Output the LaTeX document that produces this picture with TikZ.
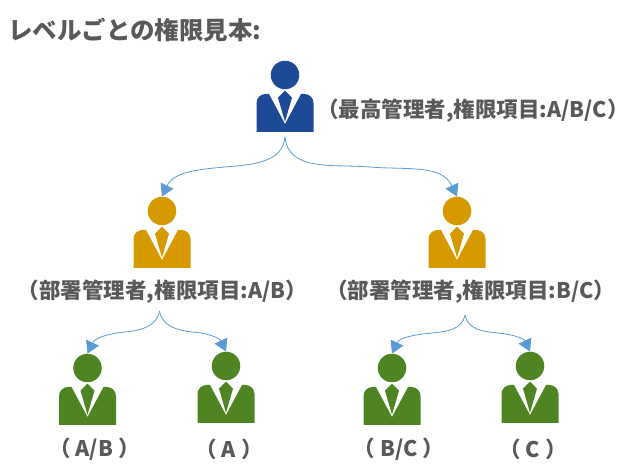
\documentclass[tikz,border=0pt]{standalone}
\usepackage{fontspec}
\setmainfont{Noto Sans CJK JP}
\usetikzlibrary{arrows.meta,positioning}
\definecolor{topblue}{HTML}{1C4A96}
\definecolor{midgold}{HTML}{D69A00}
\definecolor{lowgreen}{HTML}{4E8522}
\definecolor{inkgray}{HTML}{595959}
\definecolor{linkblue}{HTML}{5B9BD5}
\tikzset{
  head/.style={circle,fill=#1,inner sep=0pt,minimum size=28.5pt},
  label/.style={text=inkgray,inner sep=0pt,font=\bfseries\fontsize{21.5}{25}\selectfont},
  link/.style={linkblue,line width=0.8pt,-{Triangle[length=12pt,width=14pt]}},
  suit/.pic={
    \fill[#1] (-28.5,-57) -- (-28.5,-28) arc[start angle=180,end angle=90,radius=9]
      -- (-16,-19) -- (0,-49) -- (16,-19) -- (19.5,-19)
      arc[start angle=90,end angle=0,radius=9] -- (28.5,-57) -- cycle;
    \fill[#1] (0,-15.7) -- (7,-22.7) -- (0,-46.7) -- (-7,-22.7) -- cycle;
  }
}
\begin{document}
\begin{tikzpicture}[x=1pt,y=1pt]
  \useasboundingbox (0,0) rectangle (633,474);
  \path
  (285,399) node[head=topblue](top) {} pic {suit=topblue}
  (162,263) node[head=midgold](midl) {} pic {suit=midgold}
  (457,263) node[head=midgold](midr) {} pic {suit=midgold}
  (87.5,106) node[head=lowgreen](ab) {} pic {suit=lowgreen}
  (226,108) node[head=lowgreen](a) {} pic {suit=lowgreen}
  (392,106) node[head=lowgreen](bc) {} pic {suit=lowgreen}
  (530,108) node[head=lowgreen](c) {} pic {suit=lowgreen}
  ;

  \node[label,anchor=west,font=\bfseries\fontsize{24.5}{28}\selectfont] (title) at (8,444) {レベルごとの権限見本:};
  \node[label,anchor=west] (toplabel) at (317,363) {（最高管理者,権限項目:A/B/C）};
  \node[label] (midllabel) at (162.5,182.5) {（部署管理者,権限項目:A/B）};
  \node[label] (midrlabel) at (470.5,182.5) {（部署管理者,権限項目:B/C）};
  \node[label] (ablabel) at (94.5,24.5) {（ A/B ）};
  \node[label] (alabel) at (229,24.5) {（ A ）};
  \node[label] (bclabel) at (399,24.5) {（ B/C ）};
  \node[label] (clabel) at (533,24.5) {（ C ）};

  \coordinate (topfork) at (285,337);
  \coordinate (midlfork) at (159.5,163);
  \coordinate (midrfork) at (465,159);
  \coordinate (topl) at (225,307);
  \coordinate (topr) at (370,307);
  \coordinate (midll) at (125,142);
  \coordinate (midlr) at (193,142);
  \coordinate (midrl) at (432,141);
  \coordinate (midrr) at (498,141);

  \draw[link] (topfork) to[out=265,in=5] (topl) to[out=185,in=65] (midl.north);
  \draw[link] (topfork) to[out=275,in=175] (topr) to[out=-5,in=115] (midr.north);
  \draw[link] (midlfork) to[out=260,in=5] (midll) to[out=185,in=65] (ab.north);
  \draw[link] (midlfork) to[out=280,in=175] (midlr) to[out=-5,in=115] (a.north);
  \draw[link] (midrfork) to[out=260,in=5] (midrl) to[out=185,in=65] (bc.north);
  \draw[link] (midrfork) to[out=280,in=175] (midrr) to[out=-5,in=115] (c.north);
\end{tikzpicture}
\end{document}
